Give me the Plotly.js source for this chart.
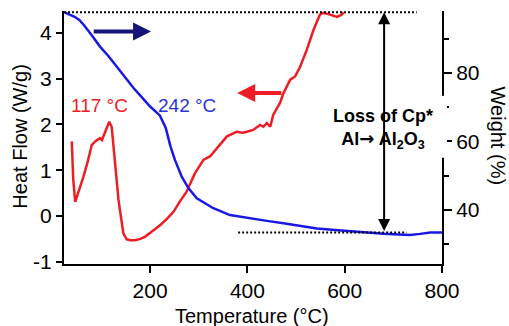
<!DOCTYPE html>
<html>
<head>
<meta charset="utf-8">
<script src="https://cdn.plot.ly/plotly-3.0.1.min.js"></script>
<style>html,body{margin:0;padding:0;background:#fff;}#chart{width:509px;height:326px;}</style>
</head>
<body>
<div id="chart"></div>
<script>
// Heat flow (DSC) – left axis
const tempHeat = [39, 42, 46, 55, 63, 72, 80, 87, 97, 101, 107, 116, 121, 128, 135, 145, 152, 160, 169, 180, 190, 205, 221, 235, 248, 262, 275, 292, 310, 323, 337, 358, 378, 390, 399, 412, 426, 433, 440, 447, 453, 467, 474, 488, 498, 508, 522, 536, 549, 556, 570, 584, 594, 598];
const heatFlow = [1.63, 0.8, 0.31, 0.6, 0.86, 1.2, 1.55, 1.63, 1.70, 1.66, 1.81, 2.06, 1.95, 1.2, 0.35, -0.38, -0.51, -0.53, -0.53, -0.5, -0.45, -0.33, -0.2, -0.06, 0.09, 0.33, 0.53, 0.93, 1.23, 1.30, 1.48, 1.74, 1.84, 1.82, 1.84, 1.88, 1.99, 1.95, 2.03, 1.95, 2.21, 2.47, 2.68, 2.98, 3.05, 3.25, 3.63, 4.07, 4.40, 4.44, 4.40, 4.35, 4.40, 4.45];

// Weight (TGA) – right axis
const tempWeight = [25, 35, 45, 55, 65, 80, 97, 115, 131, 150, 166, 185, 200, 220, 232, 242, 251, 265, 279, 296, 315, 330, 364, 400, 440, 474, 510, 543, 580, 611, 650, 680, 710, 734, 755, 776, 800];
const weight = [97.6, 97.1, 96.4, 95.4, 93.8, 91.0, 87.7, 84.8, 81.9, 78.6, 75.6, 72.6, 70.2, 67.6, 64.0, 58.5, 54.6, 49.7, 46.3, 43.4, 41.8, 40.5, 38.5, 37.6, 36.8, 36.1, 35.3, 34.6, 34.1, 33.7, 33.3, 33.0, 32.8, 32.7, 33.0, 33.4, 33.4];

// Ticks
const xTickVals = [200, 400, 600, 800];
const leftTickVals = [-1, 0, 1, 2, 3, 4];
const leftTickText = ['-1', '0', '1', '2', '3', '4'];
const rightTickVals = [40, 60, 80];
const rightMinorVals = [30, 50, 70, 90];

// Annotation data
const peakLabels = ['117 °C', '242 °C'];
const peakLabelX = [95, 275];
const peakLabelY = [2.41, 2.41];
const weightStartLevel = 97.7;   // dotted top line (weight %)
const weightEndLevel = 33.4;     // dotted bottom line (weight %)
const topLineT = [23, 748];
const bottomLineT = [381, 727];
const lossArrowT = 681;
const redArrowT = [473, 379];    // tail, head
const redArrowY = 2.69;
const blueArrowT = [81, 202];    // tail, head
const blueArrowY = 4.03;

const RED = '#ee1c25';
const BLUE = '#1818e6';
const NAVY = '#14147a';
const FONT = 'Liberation Sans, Arial, sans-serif';

const traces = [
  {x: tempHeat, y: heatFlow, type: 'scatter', mode: 'lines', line: {color: RED, width: 2.5}, xaxis: 'x', yaxis: 'y', name: 'Heat Flow'},
  {x: tempWeight, y: weight, type: 'scatter', mode: 'lines', line: {color: BLUE, width: 2.5}, xaxis: 'x', yaxis: 'y2', name: 'Weight'}
];

const axisCommon = {
  showgrid: false, zeroline: false, showline: true, linecolor: '#000', linewidth: 2,
  ticks: 'outside', tickcolor: '#000', tickwidth: 2,
  tickfont: {family: FONT, size: 21, color: '#000'}
};

const layout = {
  width: 509, height: 326,
  margin: {l: 64, r: 67, t: 11, b: 62, pad: 0},
  paper_bgcolor: '#fff', plot_bgcolor: '#fff',
  showlegend: false,
  font: {family: FONT, color: '#000'},
  xaxis: Object.assign({}, axisCommon, {range: [23, 800], tickmode: 'array', tickvals: xTickVals, ticklen: 7}),
  yaxis: Object.assign({}, axisCommon, {range: [-1.05, 4.48], tickmode: 'array', tickvals: leftTickVals, ticktext: leftTickText, ticklen: 6}),
  yaxis2: Object.assign({}, axisCommon, {
    overlaying: 'y', side: 'right', anchor: 'x', range: [24.2, 98.1],
    tickmode: 'array', tickvals: rightTickVals, ticklen: 8,
    minor: {tickmode: 'array', tickvals: rightMinorVals, ticklen: 5, tickwidth: 2, tickcolor: '#000', ticks: 'outside'}
  }),
  shapes: [
    {type: 'line', xref: 'x', yref: 'y2', x0: topLineT[0], x1: topLineT[1], y0: weightStartLevel, y1: weightStartLevel, line: {color: '#000', width: 2, dash: '2px,2px'}},
    {type: 'line', xref: 'x', yref: 'y2', x0: bottomLineT[0], x1: bottomLineT[1], y0: weightEndLevel, y1: weightEndLevel, line: {color: '#000', width: 2, dash: '2px,2px'}},
    {type: 'rect', xref: 'paper', yref: 'paper', x0: 0.69, x1: 1.013, y0: 0.42, y1: 0.665, fillcolor: '#fff', line: {width: 0}, layer: 'above'}
  ],
  annotations: [
    {x: lossArrowT, y: weightStartLevel, xref: 'x', yref: 'y2', ax: lossArrowT, ay: weightEndLevel, axref: 'x', ayref: 'y2', text: '', showarrow: true, arrowhead: 2, arrowside: 'end+start', arrowsize: 1.2, arrowwidth: 2, arrowcolor: '#000', standoff: 0, startstandoff: 0},
    {x: redArrowT[1], y: redArrowY, xref: 'x', yref: 'y', ax: redArrowT[0], ay: redArrowY, axref: 'x', ayref: 'y', text: '', showarrow: true, arrowhead: 2, arrowsize: 0.9, arrowwidth: 4, arrowcolor: RED, standoff: 0},
    {x: blueArrowT[1], y: blueArrowY, xref: 'x', yref: 'y', ax: blueArrowT[0], ay: blueArrowY, axref: 'x', ayref: 'y', text: '', showarrow: true, arrowhead: 2, arrowsize: 0.9, arrowwidth: 4, arrowcolor: NAVY, standoff: 0},
    {x: peakLabelX[0], y: peakLabelY[0], xref: 'x', yref: 'y', text: peakLabels[0], showarrow: false, font: {family: FONT, size: 19, color: RED}},
    {x: peakLabelX[1], y: peakLabelY[1], xref: 'x', yref: 'y', text: peakLabels[1], showarrow: false, font: {family: FONT, size: 19, color: '#2a35d0'}},
    {x: 0.845, y: 0.535, xref: 'paper', yref: 'paper', xanchor: 'center', yanchor: 'middle', text: '<b>Loss of Cp*</b><br><b>Al<span style="font-family:DejaVu Sans">→</span> Al<sub>2</sub>O<sub>3</sub></b>', showarrow: false, font: {family: FONT, size: 18, color: '#000'}, align: 'center'},
    {x: 0.497, y: -0.205, xref: 'paper', yref: 'paper', xanchor: 'center', yanchor: 'middle', text: 'Temperature (°C)', showarrow: false, font: {family: FONT, size: 20, color: '#000'}},
    {x: -0.116, y: 0.504, xref: 'paper', yref: 'paper', xanchor: 'center', yanchor: 'middle', text: 'Heat Flow (W/g)', showarrow: false, textangle: -90, font: {family: FONT, size: 20, color: '#000'}},
    {x: 1.148, y: 0.504, xref: 'paper', yref: 'paper', xanchor: 'center', yanchor: 'middle', text: 'Weight (%)', showarrow: false, textangle: 90, font: {family: FONT, size: 20, color: '#000'}}
  ]
};

Plotly.newPlot('chart', traces, layout, {staticPlot: true, displayModeBar: false});
</script>
</body>
</html>
